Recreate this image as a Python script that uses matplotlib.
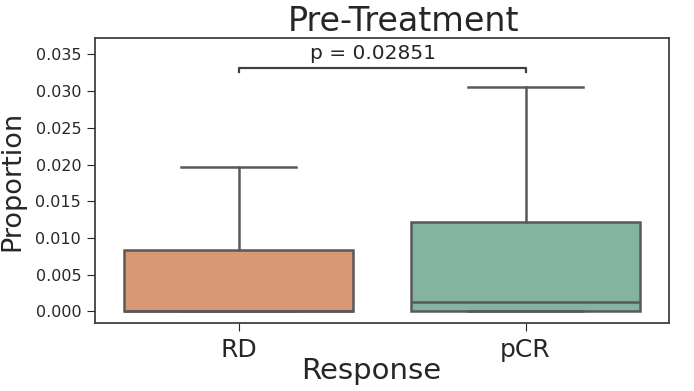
import matplotlib
matplotlib.use("Agg")
import matplotlib.pyplot as plt

# values
groups = ["RD", "pCR"]
q1 = [0.0, 0.0]
med = [0.0, 0.0013]
q3 = [0.0083, 0.0122]
whislo = [0.0, 0.0]
whishi = [0.0197, 0.0306]
colors = ["#d99875", "#84b39f"]
pval = 0.02851

fig, ax = plt.subplots(figsize=(6.94, 3.91), dpi=100)

stats = []
for i in range(len(groups)):
    stats.append({"label": groups[i], "q1": q1[i], "med": med[i], "q3": q3[i],
                  "whislo": whislo[i], "whishi": whishi[i], "fliers": []})

line = dict(color="#595959", linewidth=1.8)
bp = ax.bxp(stats, positions=range(len(groups)), widths=0.8, patch_artist=True,
            showfliers=False, boxprops=line, whiskerprops=line, capprops=line,
            medianprops=line, capwidths=0.4)
for patch, c in zip(bp["boxes"], colors):
    patch.set_facecolor(c)
    patch.set_edgecolor("#595959")

ax.set_xlim(-0.5, 1.5)
ax.set_ylim(-0.0016, 0.0372)
ax.set_yticks([0, 0.005, 0.01, 0.015, 0.02, 0.025, 0.03, 0.035])
ax.tick_params(axis="y", labelsize=11.5, length=6, pad=4, colors="#262626")
ax.tick_params(axis="x", labelsize=18, length=6, pad=5, colors="#262626")
for s in ax.spines.values():
    s.set_color("#404040")
    s.set_linewidth(1.3)

# significance bracket
y, h = 0.0326, 0.0005
ax.plot([0, 0, 1, 1], [y, y + h, y + h, y], color="#404040", linewidth=1.6)
ax.text(0.47, y + h + 0.0007, "p = %.5f" % pval, ha="center", va="bottom",
        fontsize=14.5, color="#262626")

ax.set_title("Pre-Treatment", fontsize=24, pad=5, color="#262626", x=0.537)
ax.set_xlabel("Response", fontsize=21, labelpad=-4, color="#262626", x=0.481)
ax.set_ylabel("Proportion", fontsize=19.5, labelpad=7, color="#262626")

fig.subplots_adjust(left=0.137, right=0.964, top=0.902, bottom=0.174)
fig.savefig("out.png", dpi=100)
